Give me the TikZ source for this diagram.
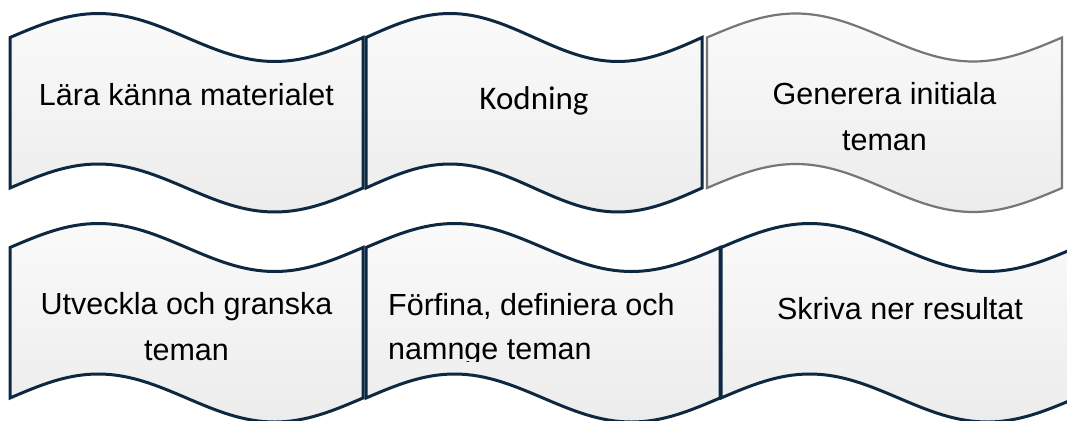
\documentclass[tikz,border=0pt]{standalone}
\usepackage{fontspec}
\setmainfont{Liberation Sans}
\newfontfamily\calfont{Carlito}
\definecolor{edgec}{HTML}{0E2841}
\definecolor{grayedge}{HTML}{767676}
\definecolor{topc}{HTML}{FAFAFA}
\definecolor{botc}{HTML}{ECECEC}
\tikzset{
  wavebox/.style={draw=edgec, line width=3pt, top color=topc, bottom color=botc},
  graywave/.style={wavebox, draw=grayedge, line width=2.2pt},
  lbl/.style={font=\fontsize{30.5}{46}\selectfont, text=black, align=center, inner sep=0pt, anchor=base},
}
% #1 x0, #2 y0 (top baseline), #3 width, #4 distance between baselines, #5 style
\newcommand\wavecard[5]{%
  \path[#5] (#1,#2) sin (#1+#3/4,#2-24) cos (#1+#3/2,#2) sin (#1+3*#3/4,#2+24) cos (#1+#3,#2)
    -- (#1+#3,#2+#4) sin (#1+3*#3/4,#2+#4+24) cos (#1+#3/2,#2+#4) sin (#1+#3/4,#2+#4-24) cos (#1,#2+#4)
    -- cycle;}
\begin{document}
\begin{tikzpicture}[x=1pt,y=-1pt]
  \clip (0,0) rectangle (1067,420);
  \fill[white] (0,0) rectangle (1067,420);
  % top row
  \wavecard{10}{37.5}{353}{150.5}{wavebox}
  \wavecard{366}{37.5}{336}{150.5}{wavebox}
  \wavecard{707}{37.5}{355}{150.5}{graywave}
  % bottom row
  \wavecard{10}{247.5}{353}{150.5}{wavebox}
  \wavecard{366}{247.5}{354}{150.5}{wavebox}
  \wavecard{721}{247.5}{355}{150.5}{wavebox}
  % labels
  \node[lbl] (t1) at (186.5,105) {Lära känna materialet};
  \node[lbl, font=\calfont\fontsize{33}{40}\selectfont] (t2) at (534,109) {Kodning};
  \node[lbl] (t3) at (884.5,150) {Generera initiala\\teman};
  \node[lbl] (t4) at (186.5,360) {Utveckla och granska\\teman};
  \begin{scope}
    \clip (370,250) rectangle (718,361);
    \node[lbl, align=left, anchor=base west, font=\fontsize{30.5}{44}\selectfont] (t5) at (388,359) {Förfina, definiera och\\namnge teman};
  \end{scope}
  \node[lbl] (t6) at (900,319) {Skriva ner resultat};
\end{tikzpicture}
\end{document}
